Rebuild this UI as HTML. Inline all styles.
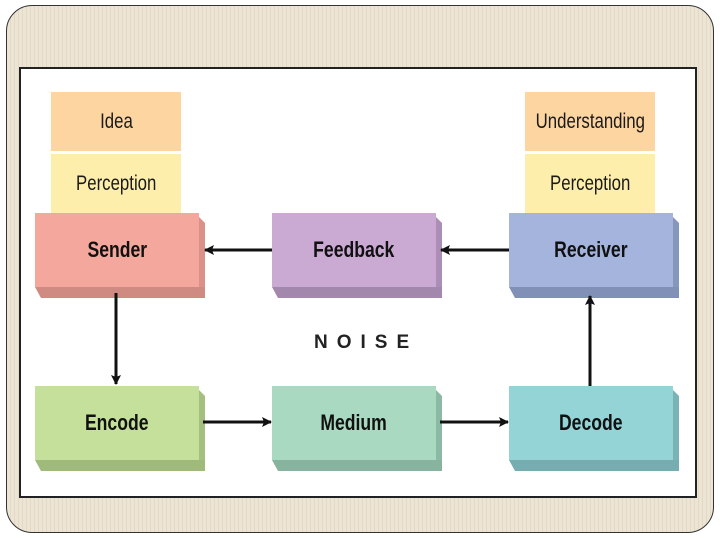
<!DOCTYPE html>
<html><head><style>
body{margin:0;width:720px;height:540px;background:#fff;position:relative;overflow:hidden;font-family:"Liberation Sans",sans-serif}
.frame{position:absolute;left:6px;top:5px;width:706px;height:526px;border:1.5px solid #333;border-radius:26px;background:repeating-linear-gradient(90deg,#ece5d4 0 3px,#e2dac6 3px 4px)}
.inner{position:absolute;left:19px;top:67px;width:674px;height:427px;border:2px solid #222;background:#fff}
.b{position:absolute;display:flex;align-items:center;justify-content:center;font-size:21px;color:#1a1a1a}
.b span{display:inline-block;transform:scaleX(.8)}
.box{position:absolute;width:164px;height:74px}
.box .f{position:absolute;left:0;top:0;width:164px;height:74px;display:flex;align-items:center;justify-content:center;font-weight:bold;font-size:22px;color:#111}
.box .f span{display:inline-block;transform:scaleX(.8)}
.box .r{position:absolute;left:164px;top:4px;width:6px;height:81px;clip-path:polygon(0 0,100% 6px,100% 100%,0 100%)}
.box .d{position:absolute;left:0;top:74px;width:170px;height:11px;clip-path:polygon(0 0,100% 0,100% 100%,6px 100%)}
.noise{position:absolute;left:314px;top:332px;font-weight:bold;font-size:19px;letter-spacing:9px;color:#222}
</style></head><body>
<div class="frame"></div>
<div class="inner"></div>
<div class="b" style="left:51px;top:92px;width:130px;height:59px;background:#fdd5a0"><span>Idea</span></div>
<div class="b" style="left:51px;top:154px;width:130px;height:59px;background:#fdeeab"><span>Perception</span></div>
<div class="b" style="left:525px;top:92px;width:130px;height:59px;background:#fdd5a0"><span>Understanding</span></div>
<div class="b" style="left:525px;top:154px;width:130px;height:59px;background:#fdeeab"><span>Perception</span></div>

<div class="box" style="left:35px;top:213px"><div class="f" style="background:#f4a89d"><span>Sender</span></div><div class="r" style="background:#d99188"></div><div class="d" style="background:#cf8a82"></div></div>
<div class="box" style="left:272px;top:213px"><div class="f" style="background:#caa9d3"><span>Feedback</span></div><div class="r" style="background:#ab8db5"></div><div class="d" style="background:#a487ad"></div></div>
<div class="box" style="left:509px;top:213px"><div class="f" style="background:#a4b4dc"><span>Receiver</span></div><div class="r" style="background:#8796bd"></div><div class="d" style="background:#8190b6"></div></div>
<div class="box" style="left:35px;top:386px"><div class="f" style="background:#c5e09b"><span>Encode</span></div><div class="r" style="background:#a5bf80"></div><div class="d" style="background:#a0ba7c"></div></div>
<div class="box" style="left:272px;top:386px"><div class="f" style="background:#a9d9c1"><span>Medium</span></div><div class="r" style="background:#8cb9a3"></div><div class="d" style="background:#88b49f"></div></div>
<div class="box" style="left:509px;top:386px"><div class="f" style="background:#94d3d6"><span>Decode</span></div><div class="r" style="background:#7ab3b6"></div><div class="d" style="background:#76adb0"></div></div>

<div class="noise">NOISE</div>
<svg width="720" height="540" style="position:absolute;left:0;top:0">
<defs><marker id="a" markerWidth="10" markerHeight="10" refX="9" refY="5" orient="auto" markerUnits="userSpaceOnUse"><path d="M0,0 L10,5 L0,10 L2,5Z" fill="#111"/></marker></defs>
<g stroke="#111" stroke-width="3" fill="none" marker-end="url(#a)">
<line x1="272" y1="250" x2="205" y2="250"/>
<line x1="509" y1="250" x2="441" y2="250"/>
<line x1="116" y1="293" x2="116" y2="384"/>
<line x1="203" y1="422" x2="271" y2="422"/>
<line x1="440" y1="422" x2="508" y2="422"/>
<line x1="590" y1="386" x2="590" y2="296"/>
</g></svg>
</body></html>
